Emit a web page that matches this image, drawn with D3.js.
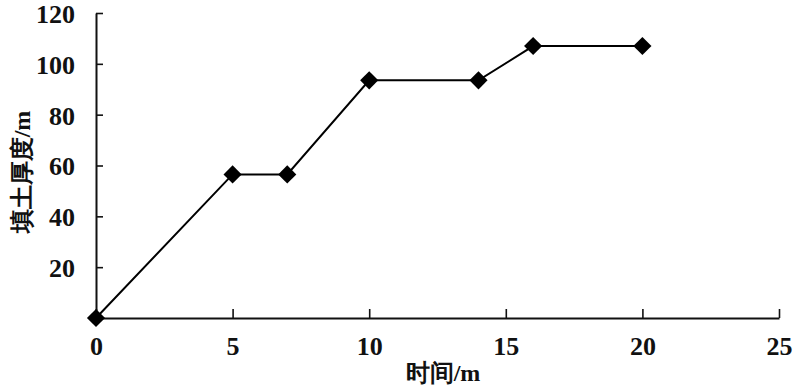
<!DOCTYPE html>
<html>
<head>
<meta charset="utf-8">
<script src="https://cdn.jsdelivr.net/npm/d3@7"></script>
<style>
  body { margin: 0; background: #fff; }
</style>
</head>
<body>
<div id="chart"></div>
<script>
// data
const times = [0, 5, 7, 10, 14, 16, 20]
const depths = [0, 56.5, 56.5, 93.5, 93.5, 107, 107]
const xTicks = [0, 5, 10, 15, 20, 25]
const yTicks = [20, 40, 60, 80, 100, 120]

const serif = "Liberation Serif"

const width = 793, height = 386
const margin = {left: 96, right: 14, top: 13, bottom: 68}

const svg = d3.select("#chart").append("svg")
  .attr("width", width).attr("height", height)

const x = d3.scaleLinear().domain([0, 25]).range([margin.left, width - margin.right])
const y = d3.scaleLinear().domain([0, 120]).range([height - margin.bottom, margin.top])

// x axis
const gx = svg.append("g")
  .attr("transform", `translate(0,${y(0)})`)
  .call(d3.axisBottom(x).tickValues(xTicks).tickSizeInner(-9).tickSizeOuter(0).tickPadding(19))
gx.attr("font-family", serif)
gx.select(".domain").attr("stroke", "#111").attr("stroke-width", 2)
gx.selectAll(".tick line").attr("stroke", "#111").attr("stroke-width", 1.6)
gx.selectAll(".tick text").attr("font-family", serif).attr("font-size", 26)
  .attr("font-weight", "bold").attr("fill", "#111").attr("dy", "0.71em")

// y axis
const gy = svg.append("g")
  .attr("transform", `translate(${x(0)},0)`)
  .call(d3.axisLeft(y).tickValues(yTicks).tickSizeInner(-7).tickSizeOuter(0).tickPadding(21))
gy.attr("font-family", serif)
gy.select(".domain").attr("stroke", "#111").attr("stroke-width", 2)
gy.selectAll(".tick line").attr("stroke", "#111").attr("stroke-width", 1.6)
gy.selectAll(".tick text").attr("font-family", serif).attr("font-size", 26)
  .attr("font-weight", "bold").attr("fill", "#111").attr("dy", "0.36em")

// the line
const line = d3.line().x((d, i) => x(times[i])).y(d => y(d))
svg.append("path")
  .datum(depths)
  .attr("fill", "none")
  .attr("stroke", "#000")
  .attr("stroke-width", 2)
  .attr("d", line)

// diamond markers
svg.selectAll(".pt")
  .data(depths)
  .join("path")
  .attr("class", "pt")
  .attr("transform", (d, i) => `translate(${x(times[i])},${y(d)}) rotate(45)`)
  .attr("d", d3.symbol(d3.symbolSquare, 165))
  .attr("fill", "#000")

// axis titles
svg.append("text")
  .attr("x", 443).attr("y", 381)
  .attr("text-anchor", "middle")
  .attr("font-family", serif)
  .attr("font-size", 24).attr("font-weight", "bold").attr("fill", "#111")
  .text("时间/m")

svg.append("text")
  .attr("transform", "translate(30,172) rotate(-90)")
  .attr("text-anchor", "middle")
  .attr("font-family", serif)
  .attr("font-size", 24).attr("font-weight", "bold").attr("fill", "#111")
  .text("填土厚度/m")
</script>
</body>
</html>
